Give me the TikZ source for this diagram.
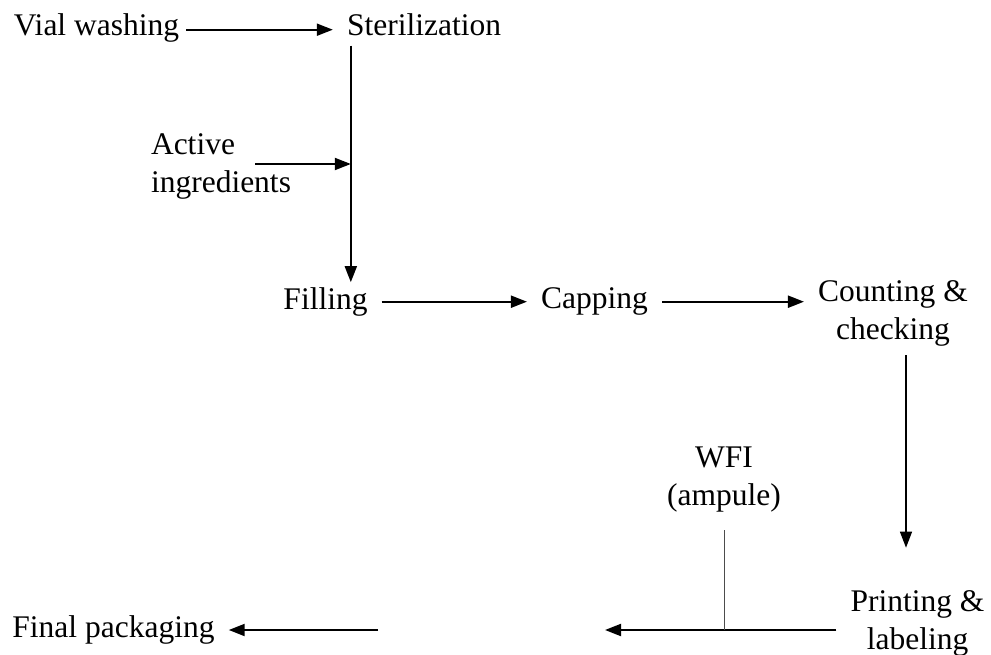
\documentclass[tikz,border=0pt]{standalone}
\usepackage{fontspec}
\setmainfont{Liberation Serif}
\usetikzlibrary{arrows.meta}

\begin{document}
\begin{tikzpicture}[
        x=1pt, y=-1pt,
        stage/.style={inner xsep=14pt, inner ysep=5pt, font=\fontsize{31.5}{37.5}\selectfont, align=center},
        flow/.style={-{Triangle[length=16pt, width=12pt]}, line width=2pt},
        feed/.style={line width=1pt, draw=black!70}
    ]
    \useasboundingbox (0,0) rectangle (991,655);

    % Top row
    \node[stage] (washing) at (96.5, 27.7) {Vial washing};
    \node[stage] (steril) at (424, 24.3) {Sterilization};
    \node[stage, align=left] (active) at (221, 166.5) {Active\\ingredients};

    % Middle row
    \node[stage] (filling) at (325.5, 301.7) {Filling};
    \node[stage] (capping) at (594.5, 301.7) {Capping};
    \node[stage] (counting) at (893, 313.5) {Counting \&\\checking};

    % Bottom row
    \node[stage] (wfi) at (724, 479.5) {WFI\\(ampule)};
    \node[stage] (printing) at (917.5, 623.5) {Printing \&\\labeling};
    \node[stage] (final) at (113.5, 630) {Final packaging};

    % Helper points
    \coordinate (spine) at ([xshift=18pt]steril.south west);
    \coordinate (activetail) at (255, 164);
    \coordinate (gapR) at (605, 630);
    \coordinate (gapL) at (378, 630);

    % Arrows
    \draw[flow, shorten <=-7pt] ([yshift=-2pt]washing.east) -- ([yshift=-2pt]washing.east -| steril.west);
    \draw[flow, shorten <=5pt] (spine) -- (spine |- filling.north);
    \draw[flow] (activetail) -- (activetail -| spine);
    \draw[flow] (filling.east) -- (capping.west);
    \draw[flow] (capping.east) -- (capping.east -| counting.west);
    \draw[flow, line width=1.3pt, shorten <=4pt, shorten >=38pt] ([xshift=13pt]counting.south) -- ([xshift=13pt]counting.south |- printing.north);
    \draw[flow] (printing.west |- gapR) -- (gapR);
    \draw[feed, shorten <=13pt] (wfi.south) -- (wfi.south |- gapR);
    \draw[flow] (gapL) -- (gapL -| final.east);

\end{tikzpicture}
\end{document}
